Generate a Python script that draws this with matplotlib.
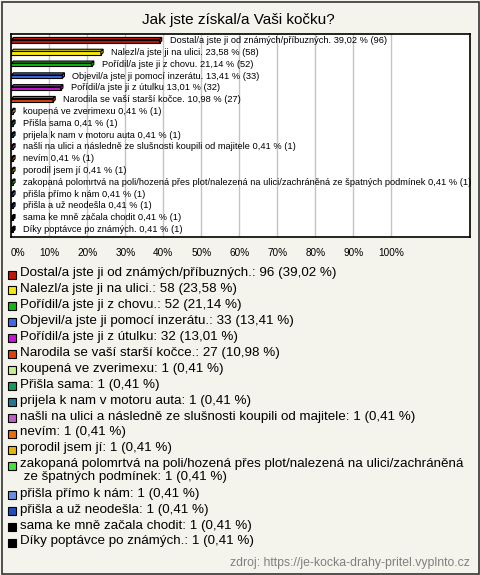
import numpy as np
import matplotlib
matplotlib.use("Agg")
import matplotlib.pyplot as plt
from matplotlib.patches import Polygon, Rectangle
from matplotlib.transforms import ScaledTranslation

plt.rcParams['font.family'] = ['Liberation Sans', 'DejaVu Sans']

# --- data ---
title = "Jak jste získal/a Vaši kočku?"
names = [
    "Dostal/a jste ji od známých/příbuzných.",
    "Nalezl/a jste ji na ulici.",
    "Pořídil/a jste ji z chovu.",
    "Objevil/a jste ji pomocí inzerátu.",
    "Pořídil/a jste ji z útulku",
    "Narodila se vaší starší kočce.",
    "koupená ve zverimexu",
    "Přišla sama",
    "prijela k nam v motoru auta",
    "našli na ulici a následně ze slušnosti koupili od majitele",
    "nevím",
    "porodil jsem jí",
    "zakopaná polomrtvá na poli/hozená přes plot/nalezená na ulici/zachráněná ze špatných podmínek",
    "přišla přímo k nám",
    "přišla a už neodešla",
    "sama ke mně začala chodit",
    "Díky poptávce po známých.",
]
counts = [96, 58, 52, 33, 32, 27, 1, 1, 1, 1, 1, 1, 1, 1, 1, 1, 1]
percents = [39.02, 23.58, 21.14, 13.41, 13.01, 10.98,
            0.41, 0.41, 0.41, 0.41, 0.41, 0.41, 0.41, 0.41, 0.41, 0.41, 0.41]
colors = ["#c0160c", "#f5e80c", "#16b416", "#4169e1", "#c418d0", "#e0400e",
          "#c8f08c", "#1a9a58", "#1e7896", "#c060c4", "#e8700c", "#e8b40c",
          "#48e03c", "#6890e0", "#2050c0", "#000000", "#000000"]
x_ticks = [0, 10, 20, 30, 40, 50, 60, 70, 80, 90, 100]
source = "zdroj: https://je-kocka-drahy-pritel.vyplnto.cz"

def fmt(v):
    return f"{v:.2f}".replace(".", ",")

W, H = 480, 575
fig = plt.figure(figsize=(W / 100, H / 100), dpi=100)
fig.patch.set_facecolor("#f4f3ec")
fig.patches.append(Rectangle((1.5 / W, 1.5 / H), (W - 3) / W, (H - 3) / H,
                             transform=fig.transFigure, fill=False,
                             edgecolor="#333333", lw=1.2))

fig.text(238 / W, 1 - 20 / H, title, ha="center", va="center", fontsize=11)

# --- bar chart ---
ax = fig.add_axes([11.3 / W, 1 - 237 / H, (470 - 11.3) / W, (237 - 34) / H])
ax.set_facecolor("white")
n = len(names)
y = np.arange(n)
ax.set_xlim(0, (470 - 11.3) / 3.8)
ax.set_ylim(n - 1 + 0.64, -0.56)

ax.set_xticks(x_ticks)
ax.set_xticklabels([f"{t}%" for t in x_ticks], fontsize=7.2)
ax.tick_params(axis="x", length=0, pad=8)
# first label sits a little right of the axis start
lbl0 = ax.get_xticklabels()[0]
lbl0.set_transform(lbl0.get_transform() + ScaledTranslation(7 / 100, 0, fig.dpi_scale_trans))
ax.set_yticks([])
ax.grid(axis="x", color="#c4c4c4", lw=1)
ax.set_axisbelow(True)
for s in ax.spines.values():
    s.set_color("black")
    s.set_linewidth(1.2)

# pixel sizes in data units
px_x = 1 / 3.8
px_y = 1 / 12.53
dx, dy = 2.2 * px_x, 2.2 * px_y
h = 3.6 * px_y
cy = y + 0.05

ax.barh(cy, percents, height=h, color=colors, edgecolor="black", lw=0.8, zorder=3)
for yc, v, c in zip(cy, percents, colors):
    top, bot = yc - h / 2, yc + h / 2
    ax.add_patch(Polygon([(0, top), (v, top), (v + dx, top - dy), (dx, top - dy)],
                         closed=True, facecolor=c, edgecolor="black", lw=0.8, zorder=3))
    ax.add_patch(Polygon([(v, top), (v + dx, top - dy), (v + dx, bot - dy), (v, bot)],
                         closed=True, facecolor=c, edgecolor="black", lw=0.8, zorder=3))

for yi, v, nm, c in zip(y, percents, names, counts):
    ax.annotate(f"{nm} {fmt(v)} % ({c})", (v, yi), xytext=(10, 0),
                textcoords="offset pixels", va="center", ha="left",
                fontsize=6.65, zorder=4)

# --- legend ---
wrap_at = 12
leg_y = 274.5
for i, (nm, c, v, col) in enumerate(zip(names, counts, percents, colors)):
    label = f"{nm}: {c} ({fmt(v)} %)"
    if i == wrap_at:
        label = label.replace("zachráněná ze", "zachráněná\n ze")
    fig.patches.append(Rectangle((8 / W, 1 - (leg_y + 4) / H), 8 / W, 8 / H,
                                 transform=fig.transFigure, facecolor=col,
                                 edgecolor="black", lw=0.8))
    fig.text(20.5 / W, 1 - (leg_y - 7.5) / H, label, ha="left", va="top",
             fontsize=9.6, linespacing=1.1)
    leg_y += 13.3 * label.count("\n") + 15.95

fig.text(470 / W, 1 - 563 / H, source, ha="right", va="center",
         fontsize=8.8, color="#808080")

fig.savefig("out.png", dpi=100, facecolor=fig.get_facecolor())
